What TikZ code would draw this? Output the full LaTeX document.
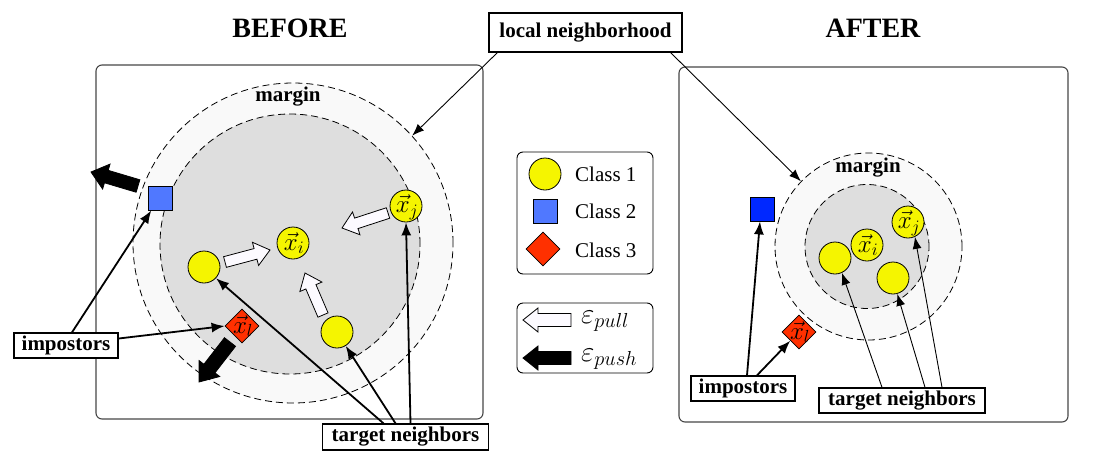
\RequirePackage{fix-cm}
\documentclass[tikz,border=0pt]{standalone}
\usepackage{fontspec}
\setmainfont{Liberation Serif}
\usetikzlibrary{shapes.geometric,calc,arrows.meta}

\definecolor{yel}{RGB}{245,245,0}
\definecolor{redd}{RGB}{255,48,0}
\definecolor{blueLt}{RGB}{80,120,255}
\definecolor{blueDk}{RGB}{0,40,255}
\definecolor{margfill}{RGB}{249,249,249}
\definecolor{innerfill}{RGB}{222,222,222}
\definecolor{pullfill}{RGB}{252,250,255}
\definecolor{boxgray}{RGB}{70,70,70}

% #1 style, #2 start, #3 end, #4 half body, #5 half head, #6 head length
\newcommand{\fatarrow}[6]{%
 \draw[#1] ($(#2)!#4!90:(#3)$) -- ($(#3)!#6!(#2)!#4!-90:(#2)$) -- ($(#3)!#6!(#2)!#5!-90:(#2)$) -- (#3) -- ($(#3)!#6!(#2)!#5!90:(#2)$) -- ($(#3)!#6!(#2)!#4!90:(#2)$) -- ($(#2)!#4!-90:(#3)$) -- cycle;}

\begin{document}
\begin{tikzpicture}[x=1pt,y=-1pt,
  title/.style={font=\fontsize{28}{32}\selectfont\bfseries},
  bigbox/.style={draw=boxgray, line width=1.1pt, rounded corners=6pt},
  legbox/.style={draw=black, line width=0.9pt, rounded corners=6pt},
  ring/.style={circle, draw, dashed, dash pattern=on 7pt off 4pt, line width=0.8pt, inner sep=0pt},
  mfont/.style={font=\fontsize{21}{24}\selectfont\bfseries},
  pt/.style={circle, draw, fill=yel, minimum size=32pt, inner sep=0pt, line width=0.8pt},
  sq/.style={rectangle, draw, minimum size=24pt, inner sep=0pt, line width=0.8pt},
  dia/.style={diamond, draw, fill=redd, minimum size=34pt, inner sep=0pt, line width=0.8pt},
  vtext/.style={font=\fontsize{25}{28}\selectfont, inner sep=0pt},
  lab/.style={draw, fill=white, line width=1.3pt, inner sep=0pt, font=\fontsize{21}{24}\selectfont\bfseries},
  leg/.style={font=\fontsize{21}{24}\selectfont, anchor=west, inner sep=0pt},
  legm/.style={font=\fontsize{29}{32}\selectfont, anchor=west, inner sep=0pt},
  thickarr/.style={line width=1.8pt, -{Latex[length=13pt,width=10pt]}},
  thinarr/.style={line width=0.9pt, -{Latex[length=12pt,width=9pt]}},
  pull/.style={draw=black, fill=pullfill, line width=0.8pt, line join=miter},
  push/.style={draw=black, fill=black, line width=0.8pt, line join=miter}]
\useasboundingbox (0,0) rectangle (1100,461);

% titles
\node[title] (before) at (290,28) {BEFORE};
\node[title] (after) at (873,28) {AFTER};

% frames
\draw[bigbox] (96,65) rectangle (483,419);
\draw[bigbox] (679,67) rectangle (1068,422);

% neighborhoods
\node[ring, fill=margfill, minimum size=320pt] (outerL) at (293,243) {};
\node[ring, fill=innerfill, minimum size=260pt] (innerL) at (290,244) {};
\node[mfont] (marginL) at (288,97) {margin};
\node[ring, fill=margfill, minimum size=187pt] (outerR) at (868.5,246.5) {};
\node[ring, fill=innerfill, minimum size=124pt] (innerR) at (867,246.5) {};
\node[mfont] (marginR) at (868,168) {margin};

% force arrows (before)
\coordinate (pa1) at (225,262); \coordinate (pb1) at (270,250);
\coordinate (pa2) at (388,213); \coordinate (pb2) at (342,228);
\coordinate (pa3) at (323,315); \coordinate (pb3) at (305,273);
\coordinate (qa1) at (138,186); \coordinate (qb1) at (91,172);
\coordinate (qa2) at (230,342); \coordinate (qb2) at (199,382);
\fatarrow{pull}{pa1}{pb1}{5.5pt}{12pt}{15pt}
\fatarrow{pull}{pa2}{pb2}{5.5pt}{12pt}{15pt}
\fatarrow{pull}{pa3}{pb3}{5.5pt}{12pt}{15pt}
\fatarrow{push}{qa1}{qb1}{6.5pt}{13pt}{16pt}
\fatarrow{push}{qa2}{qb2}{7pt}{13pt}{17pt}

% points (before)
\node[pt] (xiL) at (293,243) {};
\node[pt] (xjL) at (406,206) {};
\node[pt] (c1L) at (204,267) {};
\node[pt] (c3L) at (337,332) {};
\node[sq, fill=blueLt] (blueL) at (160,198) {};
\node[dia] (redL) at (242,326) {};
\node[vtext] (txiL) at ([xshift=1pt]xiL.center) {$\vec{x}_i$};
\node[vtext] (txjL) at ([xshift=1pt,yshift=-1pt]xjL.center) {$\vec{x}_j$};
\node[vtext] (txlL) at ([xshift=1pt]redL.center) {$\vec{x}_l$};

% points (after)
\node[pt] (xiR) at (867,245) {};
\node[pt] (xjR) at (908,222) {};
\node[pt] (c1R) at (835,258) {};
\node[pt] (c3R) at (893,278) {};
\node[sq, fill=blueDk] (blueR) at (762,209) {};
\node[dia] (redR) at (799,332) {};
\node[vtext] (txiR) at ([xshift=1pt]xiR.center) {$\vec{x}_i$};
\node[vtext] (txjR) at ([xshift=1pt,yshift=-1pt]xjR.center) {$\vec{x}_j$};
\node[vtext] (txlR) at ([xshift=1pt]redR.center) {$\vec{x}_l$};

% legend
\draw[legbox] (517,152) rectangle (653,274);
\node[pt] (lg1) at (545,174) {};
\node[leg] (lt1) at (575,174) {Class 1};
\node[sq, fill=blueLt] (lg2) at (545,211) {};
\node[leg] (lt2) at (575,211) {Class 2};
\node[dia] (lg3) at (543,249) {};
\node[leg] (lt3) at (575,250) {Class 3};
\draw[legbox] (517,303) rectangle (653,373);
\coordinate (la1) at (571,320); \coordinate (lb1) at (523,320);
\coordinate (la2) at (571,358); \coordinate (lb2) at (523,358);
\fatarrow{pull}{la1}{lb1}{6.5pt}{12pt}{15pt}
\fatarrow{push}{la2}{lb2}{6.5pt}{12pt}{15pt}
\node[legm] (lt4) at (581,321) {$\varepsilon_{pull}$};
\node[legm] (lt5) at (581,359) {$\varepsilon_{push}$};

% labels
\node[lab, minimum width=193pt, minimum height=39pt] (lnode) at (585.5,32.5) {local neighborhood};
\node[lab, minimum width=104pt, minimum height=25pt] (impL) at (66,345.5) {impostors};
\node[lab, minimum width=166pt, minimum height=26pt] (tnL) at (405.5,437) {target neighbors};
\node[lab, minimum width=104pt, minimum height=25pt] (impR) at (743,388.5) {impostors};
\node[lab, minimum width=166pt, minimum height=25pt] (tnR) at (902,400.5) {target neighbors};

% connectors
\draw[thinarr] ([xshift=9pt]lnode.south west) -- (outerL.42);
\draw[thinarr] ([xshift=-12pt]lnode.south east) -- (outerR.136);
\draw[thickarr] ([xshift=6pt]impL.north) -- (blueL.235);
\draw[thickarr] ([yshift=7pt]impL.east) -- (redL.west);
\draw[thickarr] ([xshift=-22pt]tnL.north) -- (c1L.317);
\draw[thickarr] ([xshift=-10pt]tnL.north) -- (c3L.302);
\draw[thickarr] ([xshift=5pt]tnL.north) -- (xjL.south);
\draw[thickarr] ([xshift=4pt]impR.north) -- ([xshift=-2pt]blueR.south);
\draw[thickarr] ([xshift=14pt]impR.north) -- (redR.225);
\draw[thinarr] ([xshift=-20pt]tnR.north) -- (c1R.295);
\draw[thinarr] ([xshift=23pt]tnR.north) -- (c3R.285);
\draw[thinarr] ([xshift=40pt]tnR.north) -- (xjR.295);
\end{tikzpicture}
\end{document}
